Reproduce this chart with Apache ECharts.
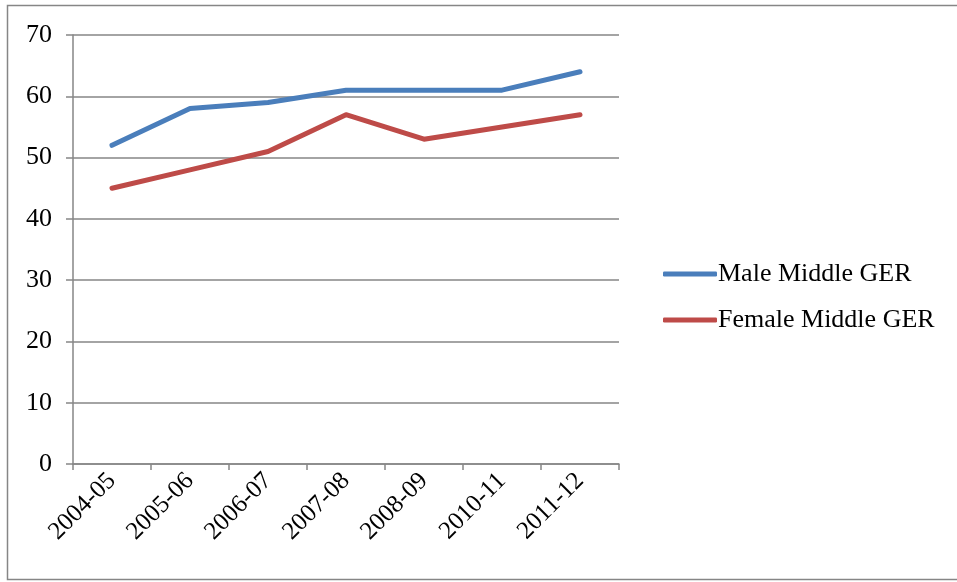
<!DOCTYPE html>
<html>
<head>
<meta charset="utf-8">
<script src="https://cdn.jsdelivr.net/npm/echarts@6/dist/echarts.min.js"></script>
<style>
  html, body { margin: 0; padding: 0; background: #fff; }
  #chart { width: 957px; height: 582px; }
</style>
</head>
<body>
<div id="chart"></div>
<script>
// School years on the category axis
const years = ['2004-05', '2005-06', '2006-07', '2007-08', '2008-09', '2010-11', '2011-12'];
// Gross enrolment ratio at middle level, by gender
const maleGER = [52, 58, 59, 61, 61, 61, 64];
const femaleGER = [45, 48, 51, 57, 53, 55, 57];
const seriesNames = ['Male Middle GER', 'Female Middle GER'];

const font = '"Liberation Serif", "Times New Roman", serif';
const gray = '#868686';

const chart = echarts.init(document.getElementById('chart'));
chart.setOption({
  animation: false,
  backgroundColor: '#fff',
  graphic: [{
    type: 'rect',
    shape: { x: 7.5, y: 5.5, width: 960, height: 574 },
    style: { fill: 'none', stroke: gray, lineWidth: 1.5 },
    silent: true
  }],
  grid: { left: 73, right: 338, top: 35, bottom: 118, containLabel: false },
  legend: {
    orient: 'vertical',
    left: 658,
    top: 256,
    itemWidth: 54,
    itemHeight: 5,
    itemGap: 20,
    icon: 'roundRect',
    textStyle: { fontFamily: font, fontSize: 26, color: '#000', padding: [0, 0, 0, -4] },
    data: seriesNames
  },
  xAxis: {
    type: 'category',
    data: years,
    boundaryGap: true,
    axisLine: { lineStyle: { color: gray, width: 1.5 } },
    axisTick: { show: true, length: 6, lineStyle: { color: gray, width: 1.5 } },
    axisLabel: {
      rotate: 45,
      margin: 13,
      fontFamily: font,
      fontSize: 25,
      color: '#000',
      interval: 0
    }
  },
  yAxis: {
    type: 'value',
    min: 0,
    max: 70,
    interval: 10,
    axisLine: { show: true, lineStyle: { color: gray, width: 1.5 } },
    axisTick: { show: true, length: 7, lineStyle: { color: gray, width: 1.5 } },
    splitLine: { lineStyle: { color: gray, width: 1.5 } },
    axisLabel: { margin: 21, fontFamily: font, fontSize: 26, color: '#000' }
  },
  series: [
    {
      name: seriesNames[0],
      type: 'line',
      data: maleGER,
      symbol: 'none',
      lineStyle: { color: '#4A7EBB', width: 5, cap: 'round', join: 'round' },
      itemStyle: { color: '#4A7EBB' }
    },
    {
      name: seriesNames[1],
      type: 'line',
      data: femaleGER,
      symbol: 'none',
      lineStyle: { color: '#BE4B48', width: 5, cap: 'round', join: 'round' },
      itemStyle: { color: '#BE4B48' }
    }
  ]
});
</script>
</body>
</html>
